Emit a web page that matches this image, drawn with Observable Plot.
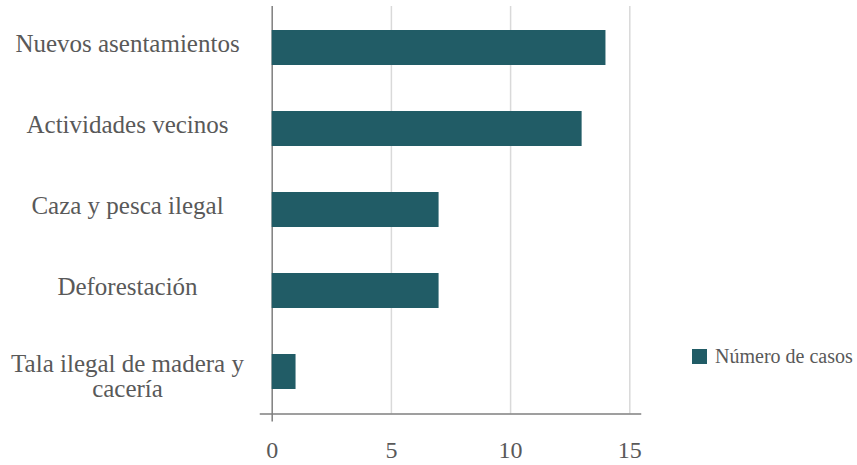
<!DOCTYPE html>
<html>
<head>
<meta charset="utf-8">
<script src="https://cdn.jsdelivr.net/npm/d3@7"></script>
<script src="https://cdn.jsdelivr.net/npm/@observablehq/plot@0.6"></script>
<style>
  html, body { margin: 0; padding: 0; background: #fff; }
  #wrap { position: relative; width: 857px; height: 465px; font-family: "Liberation Serif", "DejaVu Serif", serif; }
  #legend { position: absolute; left: 692px; top: 345px; display: flex; align-items: center; color: #595959; font-size: 20px; }
  #legend .sw { width: 15px; height: 15px; margin-right: 8px; }
</style>
</head>
<body>
<div id="wrap"><div id="legend"></div></div>
<script>
const categories = ["Nuevos asentamientos", "Actividades vecinos", "Caza y pesca ilegal", "Deforestación", "Tala ilegal de madera y cacería"];
const casos = [14, 13, 7, 7, 1];
const xTicks = [0, 5, 10, 15];
const gridTicks = [5, 10, 15];
const seriesName = "Número de casos";
const barColor = "#215c66";

const data = categories.map((c, i) => ({categoria: c, casos: casos[i]}));
const wrapLabel = d => d === "Tala ilegal de madera y cacería" ? "Tala ilegal de madera y\ncacería" : d;
const singleLine = categories.filter(c => wrapLabel(c) === c);
const multiLine = categories.filter(c => wrapLabel(c) !== c);

const yAxisOpts = {tickSize: 0, tickPadding: 144.7, textAnchor: "middle", fontSize: 25, fill: "#595959", label: null, tickFormat: wrapLabel, lineHeight: 1.0};

const chart = Plot.plot({
  width: 857,
  height: 465,
  marginLeft: 271.7,
  marginRight: 227.7,
  marginTop: 6,
  marginBottom: 51.5,
  style: {fontFamily: "'Liberation Serif', 'DejaVu Serif', serif", background: "#fff", color: "#595959"},
  x: {domain: [0, 15]},
  y: {domain: categories, paddingInner: 0.57, paddingOuter: 0.285},
  marks: [
    Plot.ruleX(gridTicks, {stroke: "#d9d9d9", strokeWidth: 1.5}),
    Plot.ruleX([0], {stroke: "#7f7f7f", strokeWidth: 1.5, insetBottom: -8}),
    Plot.barX(data, {x: "casos", y: "categoria", fill: barColor}),
    Plot.frame({anchor: "bottom", stroke: "#7f7f7f", strokeWidth: 1.5, insetLeft: -11.7, insetRight: -10.7}),
    Plot.axisX({ticks: xTicks, tickSize: 0, tickPadding: 27, fontSize: 24, fill: "#595959", label: null, tickFormat: d => String(d)}),
    Plot.axisY({...yAxisOpts, ticks: singleLine, dy: -4}),
    Plot.axisY({...yAxisOpts, ticks: multiLine, dy: 4})
  ]
});
document.getElementById("wrap").prepend(chart);

const legend = document.getElementById("legend");
const sw = document.createElement("div");
sw.className = "sw";
sw.style.background = barColor;
const lt = document.createElement("span");
lt.textContent = seriesName;
legend.append(sw, lt);
</script>
</body>
</html>
